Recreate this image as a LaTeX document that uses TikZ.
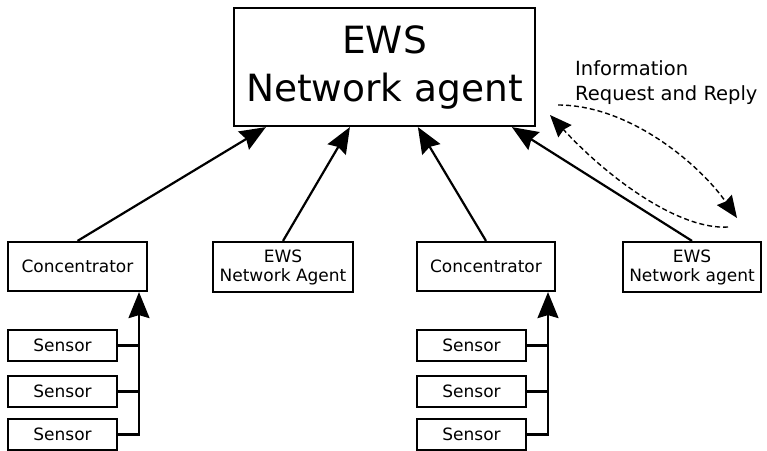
\documentclass[tikz,border=0pt]{standalone}
\usepackage{fontspec}
\setmainfont{DejaVu Sans}
\usetikzlibrary{arrows.meta}
\begin{document}
\begin{tikzpicture}[x=1pt,y=-1pt,
  boxstyle/.style={draw,line width=2.2pt,inner sep=0pt,align=center,font=\fontsize{17}{19}\selectfont},
  bigarrow/.style={line width=2.2pt,-{Stealth[length=26pt,width=21pt,inset=3pt]}},
  plainline/.style={line width=2.2pt},
  dasharrow/.style={line width=1.4pt,dash pattern=on 5pt off 3pt,-{Stealth[length=22pt,width=18pt,inset=2pt]}}
]
\useasboundingbox (0,0) rectangle (767,450);
\fill[white] (0,0) rectangle (767,450);
% main agent
\node[boxstyle,minimum width=301pt,minimum height=118pt,font=\fontsize{37.5}{48}\selectfont] (main) at (384.5,67) {EWS\\Network agent};
% second row
\node[boxstyle,minimum width=139pt,minimum height=49pt] (conA) at (77.5,266.5) {Concentrator};
\node[boxstyle,minimum width=140pt,minimum height=50pt] (agentB) at (283,267) {EWS\\Network Agent};
\node[boxstyle,minimum width=138pt,minimum height=49pt] (conC) at (486,266.5) {Concentrator};
\node[boxstyle,minimum width=138pt,minimum height=50pt] (agentD) at (692,267) {EWS\\Network agent};
% sensors
\node[boxstyle,minimum width=109pt,minimum height=31pt] (sA1) at (62.5,345.5) {Sensor};
\node[boxstyle,minimum width=109pt,minimum height=31pt] (sA2) at (62.5,391.5) {Sensor};
\node[boxstyle,minimum width=109pt,minimum height=31pt] (sA3) at (62.5,434.5) {Sensor};
\node[boxstyle,minimum width=109pt,minimum height=31pt] (sC1) at (471.5,345.5) {Sensor};
\node[boxstyle,minimum width=109pt,minimum height=31pt] (sC2) at (471.5,391.5) {Sensor};
\node[boxstyle,minimum width=109pt,minimum height=31pt] (sC3) at (471.5,434.5) {Sensor};
% label
\node[anchor=north west,align=left,inner sep=0pt,font=\fontsize{19.5}{25}\selectfont] (lbl) at (575,60) {Information\\Request and Reply};
% arrows to main
\draw[bigarrow] (conA.north) -- ([xshift=33pt]main.south west);
\draw[bigarrow] (agentB.north) -- ([xshift=117pt]main.south west);
\draw[bigarrow] (conC.north) -- ([xshift=185pt]main.south west);
\draw[bigarrow] (agentD.north) -- ([xshift=279pt]main.south west);
% sensor buses
\coordinate (tA) at ([xshift=61.5pt]conA.south);
\coordinate (tC) at ([xshift=62pt]conC.south);
\draw[plainline] (sA1.east) -- (sA1.east -| tA);
\draw[plainline] (sA2.east) -- (sA2.east -| tA);
\draw[bigarrow] (sA3.east) -| (tA);
\draw[plainline] (sC1.east) -- (sC1.east -| tC);
\draw[plainline] (sC2.east) -- (sC2.east -| tC);
\draw[bigarrow] (sC3.east) -| (tC);
% dashed request/reply
\coordinate (q1) at (558,105);
\coordinate (q2) at (737,218);
\coordinate (r1) at (728,227);
\coordinate (r2) at (550,115);
\draw[dasharrow] (q1) .. controls (630,105) and (700,165) .. (q2);
\draw[dasharrow] (r1) .. controls (680,230) and (610,180) .. (r2);
\end{tikzpicture}
\end{document}
